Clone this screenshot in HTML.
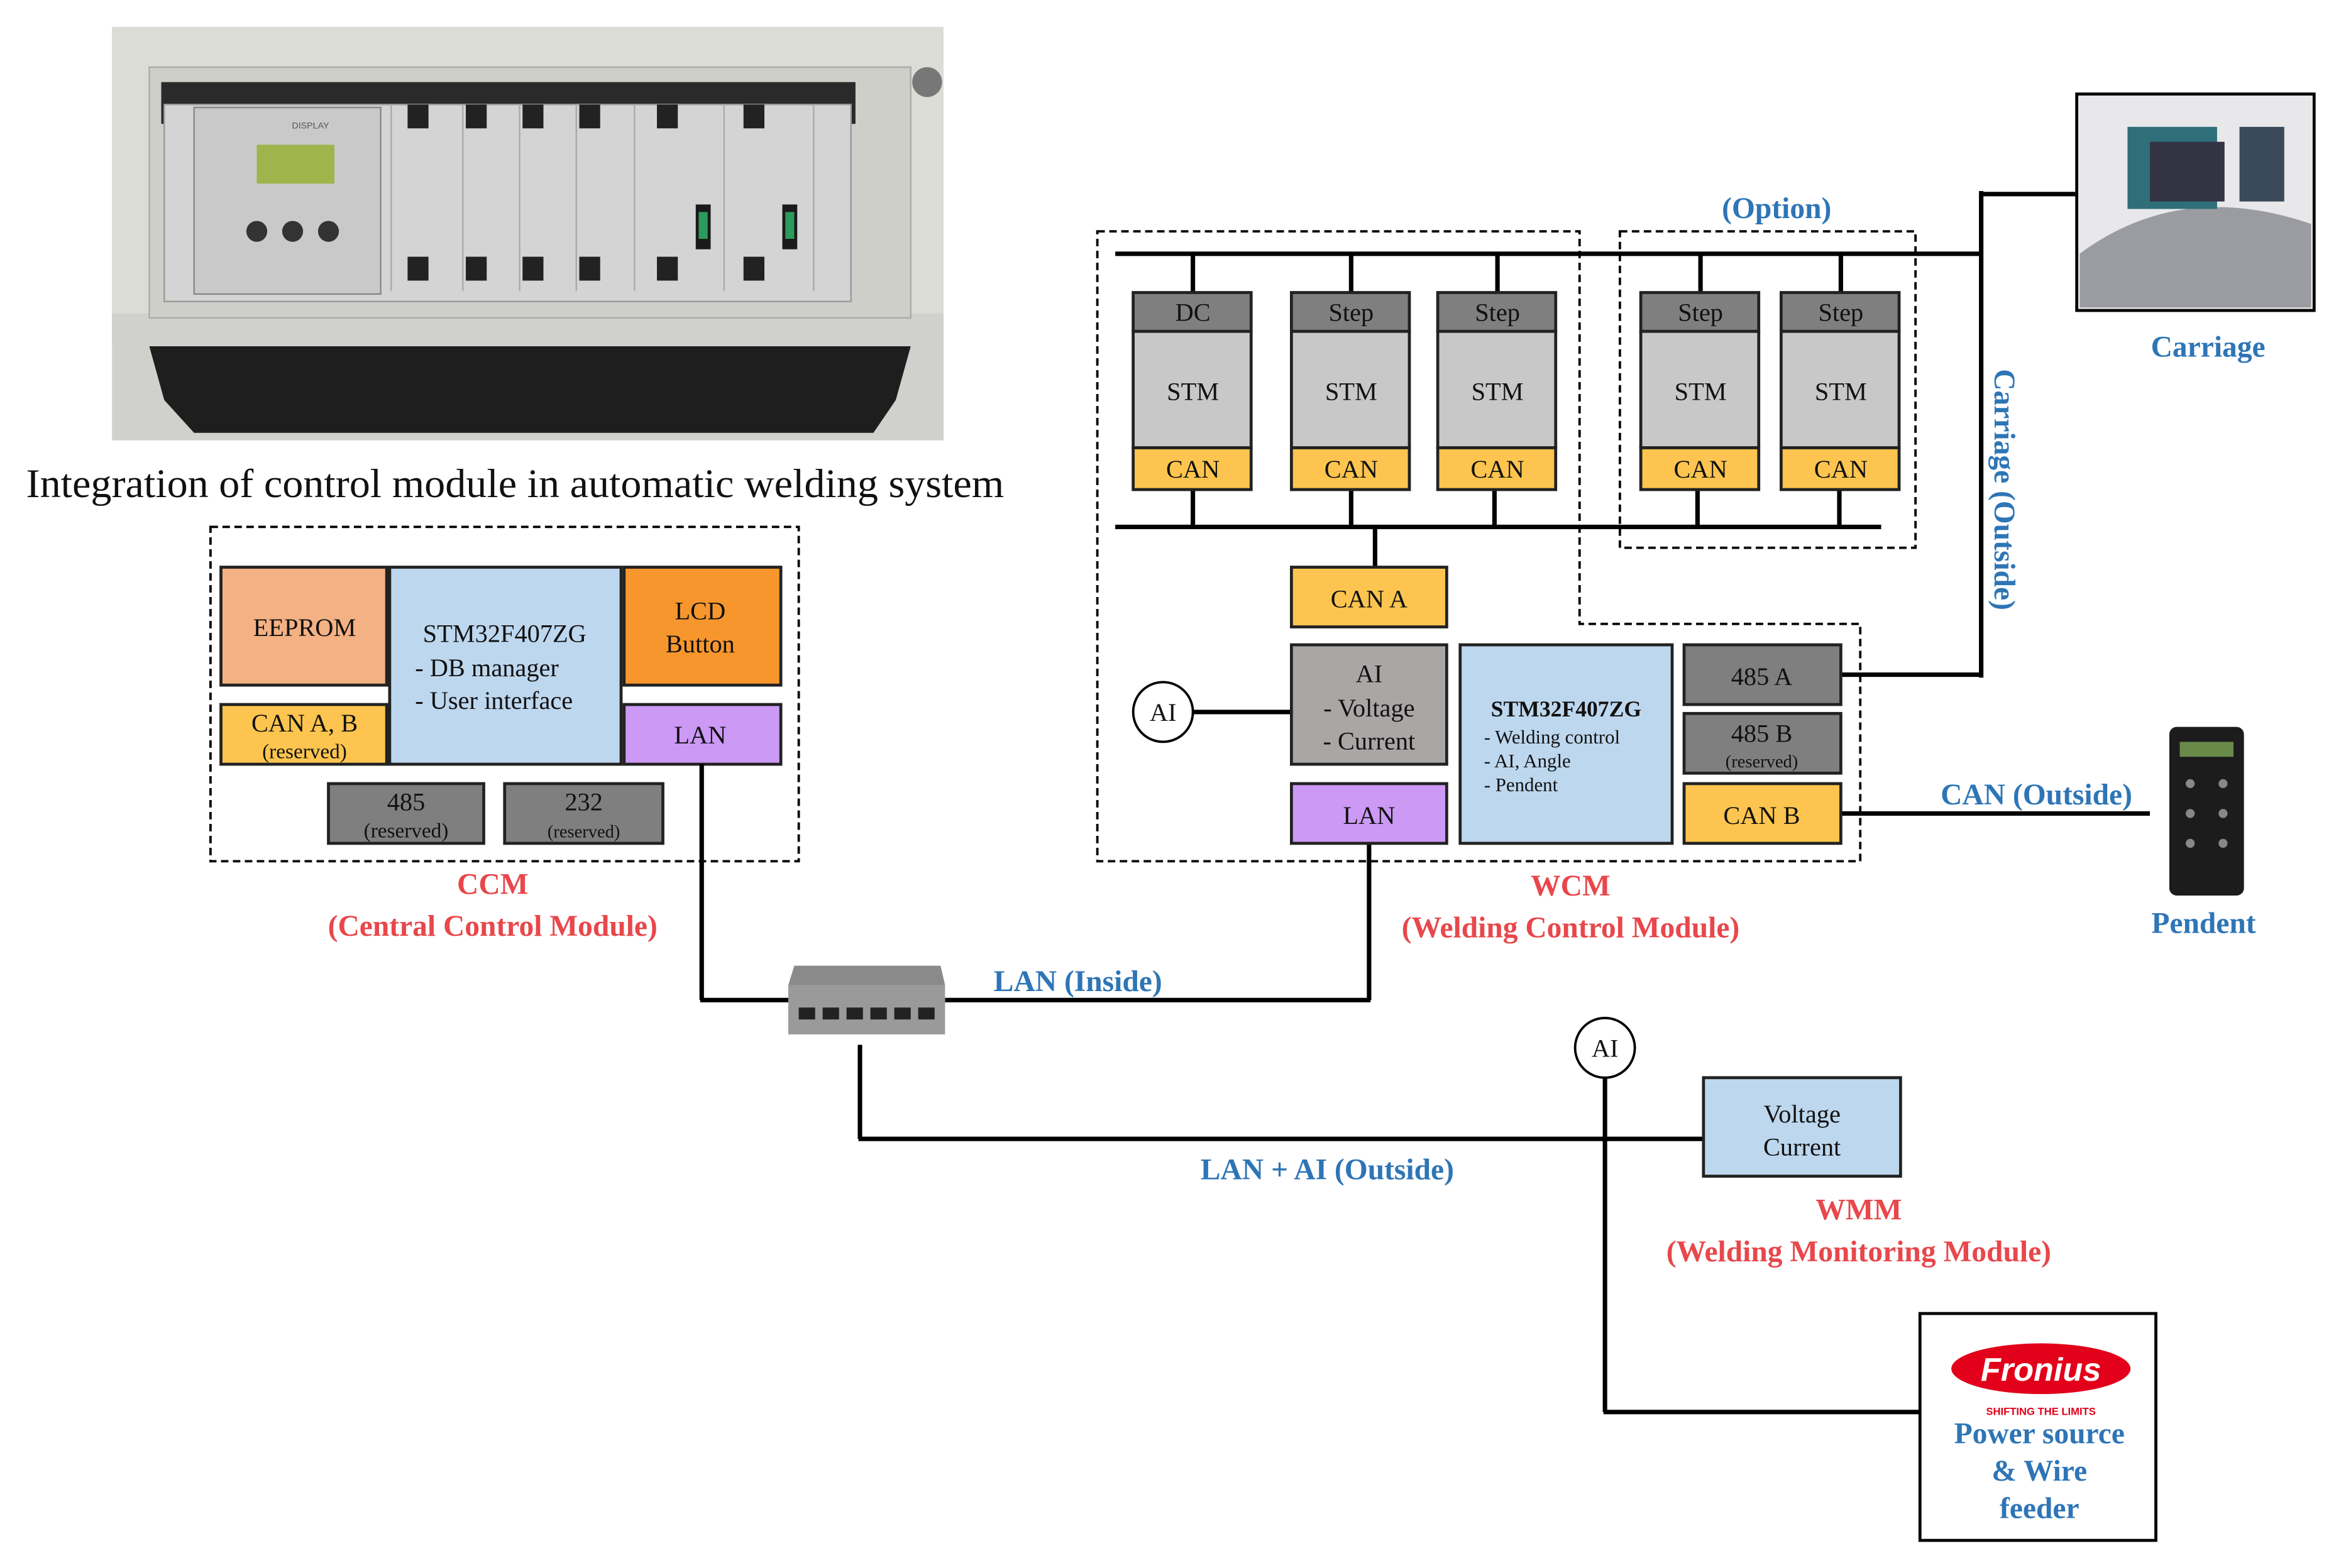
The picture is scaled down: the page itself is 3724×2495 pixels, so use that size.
<!DOCTYPE html>
<html><head><meta charset="utf-8"><style>html,body{margin:0;padding:0;background:#fff}svg{display:block}</style></head><body>
<svg xmlns="http://www.w3.org/2000/svg" width="3724" height="2495" viewBox="0 0 1568 1050.5" preserveAspectRatio="none" font-family="Liberation Serif, serif">
<!-- Photo -->
<rect x="75" y="18" width="557" height="210" fill="#dcdcd6"/>
<rect x="75" y="210" width="557" height="85" fill="#d0d0cc"/>
<polygon points="100,232 610,232 600,268 585,290 130,290 110,268" fill="#1e1e1e"/>
<rect x="100" y="45" width="510" height="168" fill="#cfcfc9" stroke="#aaa" stroke-width="1"/>
<rect x="108" y="55" width="465" height="28" fill="#2a2a2a"/>
<rect x="110" y="70" width="460" height="132" fill="#d4d4d4" stroke="#999"/>
<rect x="130" y="72" width="125" height="125" fill="#c9c9c9" stroke="#888"/>
<text x="208" y="86" font-family="Liberation Sans, sans-serif" font-size="6" text-anchor="middle" fill="#555">DISPLAY</text>
<rect x="172" y="97" width="52" height="26" fill="#9fb44a"/>
<circle cx="172" cy="155" r="7" fill="#333"/><circle cx="196" cy="155" r="7" fill="#333"/><circle cx="220" cy="155" r="7" fill="#333"/>
<g fill="#222"><rect x="273" y="70" width="14" height="16"/><rect x="312" y="70" width="14" height="16"/><rect x="350" y="70" width="14" height="16"/><rect x="388" y="70" width="14" height="16"/><rect x="440" y="70" width="14" height="16"/><rect x="498" y="70" width="14" height="16"/>
<rect x="273" y="172" width="14" height="16"/><rect x="312" y="172" width="14" height="16"/><rect x="350" y="172" width="14" height="16"/><rect x="388" y="172" width="14" height="16"/><rect x="440" y="172" width="14" height="16"/><rect x="498" y="172" width="14" height="16"/></g>
<g stroke="#aaa" fill="none"><line x1="262" y1="70" x2="262" y2="195"/><line x1="310" y1="70" x2="310" y2="195"/><line x1="348" y1="70" x2="348" y2="195"/><line x1="386" y1="70" x2="386" y2="195"/><line x1="425" y1="70" x2="425" y2="195"/><line x1="485" y1="70" x2="485" y2="195"/><line x1="545" y1="70" x2="545" y2="195"/></g>
<rect x="466" y="137" width="10" height="30" fill="#1a1a1a"/><rect x="468" y="142" width="6" height="18" fill="#2c9a5a"/>
<rect x="524" y="137" width="10" height="30" fill="#1a1a1a"/><rect x="526" y="142" width="6" height="18" fill="#2c9a5a"/>
<circle cx="621" cy="55" r="10" fill="#777"/>
<text x="345" y="333" font-size="27" text-anchor="middle" fill="#111" textLength="655" lengthAdjust="spacingAndGlyphs">Integration of control module in automatic welding system</text>

<g font-size="17" text-anchor="middle" fill="#111" stroke-width="2">
<!-- CCM -->
<rect x="141" y="353" width="394" height="224" fill="none" stroke="#000" stroke-width="1.6" stroke-dasharray="5,3"/>
<rect x="148" y="380" width="111" height="79" fill="#f4b183" stroke="#222"/><text x="204" y="426">EEPROM</text>
<rect x="261" y="380" width="155" height="132" fill="#bdd7ee" stroke="#222"/>
<text x="338" y="430">STM32F407ZG</text><text x="278" y="453" text-anchor="start">- DB manager</text><text x="278" y="475" text-anchor="start">- User interface</text>
<rect x="418" y="380" width="105" height="79" fill="#f7962d" stroke="#222"/><text x="469" y="415">LCD</text><text x="469" y="437">Button</text>
<rect x="148" y="472" width="111" height="40" fill="#fdc54f" stroke="#222"/><text x="204" y="490">CAN A, B</text><text x="204" y="508" font-size="14">(reserved)</text>
<rect x="418" y="472" width="105" height="40" fill="#cc99f5" stroke="#222"/><text x="469" y="498">LAN</text>
<rect x="220" y="525" width="104" height="40" fill="#7f7f7f" stroke="#222"/><text x="272" y="543">485</text><text x="272" y="561" font-size="14">(reserved)</text>
<rect x="338" y="525" width="106" height="40" fill="#7f7f7f" stroke="#222"/><text x="391" y="543">232</text><text x="391" y="561" font-size="12">(reserved)</text>

<!-- WCM -->
<polygon points="735,155 1058,155 1058,418 1246,418 1246,577 735,577" fill="none" stroke="#000" stroke-width="1.6" stroke-dasharray="5,3"/>
<rect x="1085" y="155" width="198" height="212" fill="none" stroke="#000" stroke-width="1.6" stroke-dasharray="5,3"/>
<g stroke="#000" stroke-width="3" fill="none">
<line x1="747" y1="170" x2="1328" y2="170"/><line x1="747" y1="353" x2="1260" y2="353"/>
<line x1="1327" y1="130" x2="1390" y2="130"/><line x1="1327" y1="128" x2="1327" y2="454"/><line x1="1233" y1="452" x2="1328" y2="452"/>
<line x1="921" y1="353" x2="921" y2="380"/>
<line x1="799" y1="170" x2="799" y2="196"/><line x1="905" y1="170" x2="905" y2="196"/><line x1="1003" y1="170" x2="1003" y2="196"/><line x1="1139" y1="170" x2="1139" y2="196"/><line x1="1233" y1="170" x2="1233" y2="196"/>
<line x1="799" y1="328" x2="799" y2="353"/><line x1="905" y1="328" x2="905" y2="353"/><line x1="1001" y1="328" x2="1001" y2="353"/><line x1="1137" y1="328" x2="1137" y2="353"/><line x1="1232" y1="328" x2="1232" y2="353"/>
<line x1="799" y1="477" x2="865" y2="477"/>
<line x1="1233" y1="545" x2="1440" y2="545"/>
<line x1="917" y1="565" x2="917" y2="670"/><line x1="633" y1="670" x2="918" y2="670"/>
<line x1="470" y1="512" x2="470" y2="670"/><line x1="469" y1="670" x2="528" y2="670"/>
<line x1="576" y1="700" x2="576" y2="763"/><line x1="575" y1="763" x2="1141" y2="763"/>
<line x1="1075" y1="722" x2="1075" y2="946"/><line x1="1074" y1="946" x2="1286" y2="946"/>
</g>
<g>
<rect x="759" y="196" width="79" height="26" fill="#7f7f7f" stroke="#222"/><rect x="759" y="222" width="79" height="78" fill="#c8c8c8" stroke="#222"/><rect x="759" y="300" width="79" height="28" fill="#fdc54f" stroke="#222"/>
<text x="799" y="215">DC</text><text x="799" y="268">STM</text><text x="799" y="320">CAN</text>
<rect x="865" y="196" width="79" height="26" fill="#7f7f7f" stroke="#222"/><rect x="865" y="222" width="79" height="78" fill="#c8c8c8" stroke="#222"/><rect x="865" y="300" width="79" height="28" fill="#fdc54f" stroke="#222"/>
<text x="905" y="215">Step</text><text x="905" y="268">STM</text><text x="905" y="320">CAN</text>
<rect x="963" y="196" width="79" height="26" fill="#7f7f7f" stroke="#222"/><rect x="963" y="222" width="79" height="78" fill="#c8c8c8" stroke="#222"/><rect x="963" y="300" width="79" height="28" fill="#fdc54f" stroke="#222"/>
<text x="1003" y="215">Step</text><text x="1003" y="268">STM</text><text x="1003" y="320">CAN</text>
<rect x="1099" y="196" width="79" height="26" fill="#7f7f7f" stroke="#222"/><rect x="1099" y="222" width="79" height="78" fill="#c8c8c8" stroke="#222"/><rect x="1099" y="300" width="79" height="28" fill="#fdc54f" stroke="#222"/>
<text x="1139" y="215">Step</text><text x="1139" y="268">STM</text><text x="1139" y="320">CAN</text>
<rect x="1193" y="196" width="79" height="26" fill="#7f7f7f" stroke="#222"/><rect x="1193" y="222" width="79" height="78" fill="#c8c8c8" stroke="#222"/><rect x="1193" y="300" width="79" height="28" fill="#fdc54f" stroke="#222"/>
<text x="1233" y="215">Step</text><text x="1233" y="268">STM</text><text x="1233" y="320">CAN</text>
</g>
<rect x="865" y="380" width="104" height="40" fill="#fdc54f" stroke="#222"/><text x="917" y="407">CAN A</text>
<rect x="865" y="432" width="104" height="80" fill="#aaa6a6" stroke="#222"/><text x="917" y="457">AI</text><text x="917" y="480">- Voltage</text><text x="917" y="502">- Current</text>
<rect x="865" y="525" width="104" height="40" fill="#cc99f5" stroke="#222"/><text x="917" y="552">LAN</text>
<rect x="978" y="432" width="142" height="133" fill="#bdd7ee" stroke="#222"/>
<text x="1049" y="480" font-size="15" font-weight="bold">STM32F407ZG</text>
<g font-size="13" text-anchor="start"><text x="994" y="498">- Welding control</text><text x="994" y="514">- AI, Angle</text><text x="994" y="530">- Pendent</text></g>
<rect x="1128" y="432" width="105" height="40" fill="#7f7f7f" stroke="#222"/><text x="1180" y="459">485 A</text>
<rect x="1128" y="478" width="105" height="40" fill="#7f7f7f" stroke="#222"/><text x="1180" y="497">485 B</text><text x="1180" y="514" font-size="12">(reserved)</text>
<rect x="1128" y="525" width="105" height="40" fill="#fdc54f" stroke="#222"/><text x="1180" y="552">CAN B</text>
<circle cx="779" cy="477" r="20" fill="#fff" stroke="#000" stroke-width="1.6"/><text x="779" y="483">AI</text>
<circle cx="1075" cy="702" r="20" fill="#fff" stroke="#000" stroke-width="1.6"/><text x="1075" y="708">AI</text>
<rect x="1141" y="722" width="132" height="66" fill="#bdd7ee" stroke="#222"/><text x="1207" y="752">Voltage</text><text x="1207" y="774">Current</text>
</g>

<!-- switch -->
<polygon points="532,647 630,647 633,660 528,660" fill="#8a8a8a"/>
<rect x="528" y="660" width="105" height="33" fill="#9a9a9a"/>
<g fill="#222"><rect x="535" y="675" width="11" height="8"/><rect x="551" y="675" width="11" height="8"/><rect x="567" y="675" width="11" height="8"/><rect x="583" y="675" width="11" height="8"/><rect x="599" y="675" width="11" height="8"/><rect x="615" y="675" width="11" height="8"/></g>

<!-- carriage image -->
<rect x="1391" y="63" width="159" height="145" fill="#e8e8ea" stroke="#000" stroke-width="2"/>
<path d="M1393,170 Q1460,120 1548,150 L1548,206 L1393,206 Z" fill="#9a9ca2"/>
<rect x="1425" y="85" width="60" height="55" fill="#2f6f7a"/><rect x="1440" y="95" width="50" height="40" fill="#334"/><rect x="1500" y="85" width="30" height="50" fill="#3a4a5a"/>
<!-- pendent -->
<rect x="1453" y="487" width="50" height="113" rx="5" fill="#1c1c1c"/>
<rect x="1460" y="497" width="36" height="10" fill="#6a8a4a"/>
<g fill="#888"><circle cx="1467" cy="525" r="3"/><circle cx="1489" cy="525" r="3"/><circle cx="1467" cy="545" r="3"/><circle cx="1489" cy="545" r="3"/><circle cx="1467" cy="565" r="3"/><circle cx="1489" cy="565" r="3"/></g>
<!-- fronius -->
<rect x="1286" y="880" width="158" height="152" fill="#fff" stroke="#000" stroke-width="2"/>
<ellipse cx="1367" cy="917" rx="60" ry="17" fill="#e2001a"/>
<text x="1367" y="925" font-family="Liberation Sans, sans-serif" font-style="italic" font-weight="bold" font-size="22" fill="#fff" text-anchor="middle">Fronius</text>
<text x="1367" y="948" font-family="Liberation Sans, sans-serif" font-weight="bold" font-size="7" fill="#e2001a" text-anchor="middle">SHIFTING THE LIMITS</text>

<!-- labels -->
<g font-weight="bold" font-size="20" text-anchor="middle" fill="#e8474b">
<text x="330" y="599">CCM</text><text x="330" y="627">(Central Control Module)</text>
<text x="1052" y="600">WCM</text><text x="1052" y="628">(Welding Control Module)</text>
<text x="1245" y="817">WMM</text><text x="1245" y="845">(Welding Monitoring Module)</text>
</g>
<g font-weight="bold" font-size="20" text-anchor="middle" fill="#2e75b6">
<text x="1190" y="146">(Option)</text>
<text x="1479" y="239">Carriage</text>
<text x="1364" y="539">CAN (Outside)</text>
<text x="1476" y="625">Pendent</text>
<text x="722" y="664">LAN (Inside)</text>
<text x="889" y="790">LAN + AI (Outside)</text>
<text x="1366" y="967">Power source</text><text x="1366" y="992">&amp; Wire</text><text x="1366" y="1017">feeder</text>
<text transform="translate(1336,328) rotate(90)">Carriage (Outside)</text>
</g>
</svg>
</body></html>
